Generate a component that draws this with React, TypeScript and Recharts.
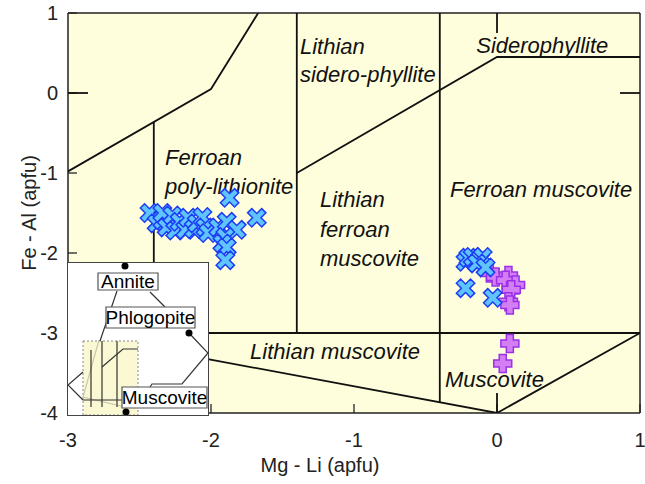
import React from "react";
import { ScatterChart, Scatter, XAxis, YAxis, ReferenceArea } from "recharts";

const xTicks = [-3, -2, -1, 0, 1];
const yTicks = [1, 0, -1, -2, -3, -4];

// field boundaries of the classification diagram (polylines)
const boundaries: [number, number][][] = [
  [[-3, -0.98], [-2, 0.05], [-1.67, 1]],
  [[-2.4, -0.36], [-2.4, -3]],
  [[-1.4, 1], [-1.4, -3]],
  [[-1.4, -1], [0, 0.45], [1, 0.45]],
  [[-0.4, 1], [-0.4, -3.867]],
  [[-2.4, -3], [1, -3]],
  [[-3, -3], [0, -4], [1, -3]],
  [[0, 1], [0, 0.75]],
  [[0, -4], [0, -3.75]],
  [[-3, 0], [-2.86, 0]],
  [[1, 0], [0.86, 0]],
];

const fieldNames = [
  { x: -1.378, y: 0.49, text: "Lithian" },
  { x: -1.378, y: 0.135, text: "sidero-phyllite" },
  { x: -0.145, y: 0.5, text: "Siderophyllite" },
  { x: -2.322, y: -0.9, text: "Ferroan" },
  { x: -2.322, y: -1.265, text: "poly-lithionite" },
  { x: -1.238, y: -1.425, text: "Lithian" },
  { x: -1.238, y: -1.8, text: "ferroan" },
  { x: -1.238, y: -2.165, text: "muscovite" },
  { x: -0.329, y: -1.3, text: "Ferroan muscovite" },
  { x: -1.727, y: -3.325, text: "Lithian muscovite" },
  { x: -0.364, y: -3.675, text: "Muscovite" },
];

// blue crosses
const biotite: [number, number][] = [
  [-2.43, -1.5], [-2.38, -1.63], [-2.34, -1.59], [-2.34, -1.5], [-2.31, -1.68],
  [-2.27, -1.53], [-2.25, -1.72], [-2.22, -1.61], [-2.18, -1.71], [-2.16, -1.56],
  [-2.12, -1.7], [-2.1, -1.63], [-2.06, -1.55], [-2.04, -1.68], [-2.02, -1.75],
  [-1.95, -1.68], [-1.89, -1.61], [-1.87, -1.31], [-1.82, -1.71], [-1.9, -1.8],
  [-1.92, -1.88], [-1.89, -1.93], [-1.9, -2.09], [-1.68, -1.56],
  [-0.22, -2.11], [-0.2, -2.06], [-0.17, -2.05], [-0.12, -2.09], [-0.1, -2.05],
  [-0.14, -2.13], [-0.08, -2.18], [-0.22, -2.44], [-0.03, -2.56],
];

// purple plus signs
const muscovite: [number, number][] = [
  [-0.05, -2.25], [-0.01, -2.3], [0.08, -2.28], [0.06, -2.34], [0.13, -2.4],
  [0.1, -2.46], [0.08, -2.61], [0.09, -2.65], [0.09, -3.13], [0.04, -3.38],
];

// inset sketch (pixel-like units of the little box)
const insetLines: { c: string; pts: [number, number][] }[] = [
  { c: "#c9c7a8", pts: [[31, 77], [15, 134], [57, 144]] },
  { c: "#333", pts: [[23, 87], [23, 144]] },
  { c: "#333", pts: [[34, 78], [34, 144]] },
  { c: "#333", pts: [[49, 78], [49, 144]] },
  { c: "#333", pts: [[34, 104], [55, 86], [70, 86]] },
  { c: "#333", pts: [[15, 137], [57, 137]] },
  { c: "#333", pts: [[15, 109], [0, 122], [15, 137]] },
  { c: "#333", pts: [[49, 28], [32, 78]] },
  { c: "#333", pts: [[82, 29], [97, 44]] },
  { c: "#333", pts: [[121, 70], [140, 90], [114, 121], [84, 121], [82, 124]] },
];
const insetNames = [
  { text: "Annite", x1: 30, y1: 10, x2: 90, y2: 27 },
  { text: "Phlogopite", x1: 38, y1: 44, x2: 127, y2: 65 },
  { text: "Muscovite", x1: 54, y1: 124, x2: 139, y2: 145 },
];
const insetDots: [number, number][] = [[57, 3], [121, 70], [58, 149]];

const toPts = (a: [number, number][]) => a.map(([x, y]) => ({ x, y }));

const Empty = () => <g />;

const plusPts = (L: number, w: number) =>
  [
    [-w, -L], [w, -L], [w, -w], [L, -w], [L, w], [w, w],
    [w, L], [-w, L], [-w, w], [-L, w], [-L, -w], [-w, -w],
  ]
    .map((p) => p.join(","))
    .join(" ");

const Cross = (p: any) => (
  <polygon
    points={plusPts(10, 3)}
    transform={`translate(${p.cx},${p.cy}) rotate(45)`}
    fill="#5ec4fb"
    stroke="#1e3cf5"
    strokeWidth={1.5}
  />
);

const Plus = (p: any) => (
  <polygon
    points={plusPts(9, 3.5)}
    transform={`translate(${p.cx},${p.cy})`}
    fill="#d47ef6"
    stroke="#9a30e6"
    strokeWidth={1.5}
  />
);

const FieldLabel = (p: any) => (
  <text x={p.cx} y={p.cy} fontSize={22} fontStyle="italic" fill="#111">
    {p.payload.text}
  </text>
);

const Dot = (p: any) => <circle cx={p.cx} cy={p.cy} r={3.5} fill="#000" />;

const xTitle = (p: any) => {
  const vb = p.viewBox;
  return (
    <text x={vb.x + vb.width / 2 - 34} y={vb.y + vb.height - 12} textAnchor="middle" fontSize={20} fill="#222">
      Mg - Li (apfu)
    </text>
  );
};

const yTitle = (p: any) => {
  const vb = p.viewBox;
  const cx = vb.x + 29;
  const cy = vb.y + vb.height / 2;
  return (
    <text x={cx} y={cy} transform={`rotate(-90 ${cx} ${cy})`} textAnchor="middle" dominantBaseline="central" fontSize={20} fill="#222">
      Fe - Al (apfu)
    </text>
  );
};

const axisLine = { stroke: "#222", strokeWidth: 1.5 };
const tickLine = { stroke: "#222", strokeWidth: 1.3 };

function Inset() {
  return (
    <div
      style={{
        position: "absolute",
        left: 67,
        top: 262,
        width: 142,
        height: 154,
        border: "1px solid #444",
        boxSizing: "border-box",
        background: "#fff",
      }}
    >
      <ScatterChart width={140} height={152} margin={{ top: 0, right: 0, bottom: 0, left: 0 }}>
        <XAxis type="number" dataKey="x" domain={[0, 140]} hide allowDataOverflow />
        <YAxis type="number" dataKey="y" domain={[0, 152]} reversed hide allowDataOverflow />
        <ReferenceArea x1={15} x2={70} y1={78} y2={152} fill="#fbf9d4" fillOpacity={1} stroke="#888" strokeDasharray="2 2" />
        {insetLines.map((l, i) => (
          <Scatter
            key={i}
            data={toPts(l.pts)}
            line={{ stroke: l.c, strokeWidth: 1.2 }}
            shape={Empty}
            isAnimationActive={false}
          />
        ))}
        {insetNames.map((n) => (
          <ReferenceArea
            key={n.text}
            x1={n.x1}
            x2={n.x2}
            y1={n.y1}
            y2={n.y2}
            fill="#fff"
            fillOpacity={1}
            stroke="#555"
            strokeWidth={1.2}
            zIndex={700}
            label={{ value: n.text, position: "center", fontSize: 19, fill: "#000" }}
          />
        ))}
        <Scatter data={toPts(insetDots)} shape={Dot} isAnimationActive={false} zIndex={800} />
      </ScatterChart>
    </div>
  );
}

export default function App() {
  return (
    <div
      style={{
        position: "absolute",
        left: 0,
        top: 0,
        width: 645,
        height: 484,
        background: "#fff",
        fontFamily: "'Liberation Sans', Arial, sans-serif",
      }}
    >
      <ScatterChart width={645} height={484} margin={{ top: 12, right: 4, bottom: 0, left: 0 }}>
        <XAxis
          type="number"
          dataKey="x"
          domain={[-3, 1]}
          ticks={xTicks}
          allowDataOverflow
          height={71}
          tickSize={-9}
          tickMargin={29}
          tick={{ fontSize: 20, fill: "#222" }}
          tickLine={tickLine}
          axisLine={axisLine}
          label={xTitle}
        />
        <XAxis
          xAxisId="top"
          orientation="top"
          type="number"
          dataKey="x"
          domain={[-3, 1]}
          ticks={xTicks}
          allowDataOverflow
          height={1}
          tickSize={-9}
          tick={false}
          tickLine={tickLine}
          axisLine={axisLine}
        />
        <YAxis
          type="number"
          dataKey="y"
          domain={[-4, 1]}
          ticks={yTicks}
          allowDataOverflow
          width={68}
          tickSize={-9}
          tickMargin={19}
          tick={{ fontSize: 20, fill: "#222" }}
          tickLine={tickLine}
          axisLine={axisLine}
          label={yTitle}
        />
        <YAxis
          yAxisId="right"
          orientation="right"
          type="number"
          dataKey="y"
          domain={[-4, 1]}
          ticks={yTicks}
          allowDataOverflow
          width={1}
          tickSize={-9}
          tick={false}
          tickLine={tickLine}
          axisLine={axisLine}
        />
        <ReferenceArea x1={-3} x2={1} y1={-4} y2={1} fill="#fffedc" fillOpacity={1} stroke="none" zIndex={-200} />
        {boundaries.map((b, i) => (
          <Scatter
            key={i}
            data={toPts(b)}
            line={{ stroke: "#111", strokeWidth: 1.8 }}
            shape={Empty}
            isAnimationActive={false}
          />
        ))}
        <Scatter data={fieldNames} shape={FieldLabel} isAnimationActive={false} />
        <Scatter data={toPts(muscovite)} shape={Plus} isAnimationActive={false} />
        <Scatter data={toPts(biotite)} shape={Cross} isAnimationActive={false} />
      </ScatterChart>
      <Inset />
    </div>
  );
}
